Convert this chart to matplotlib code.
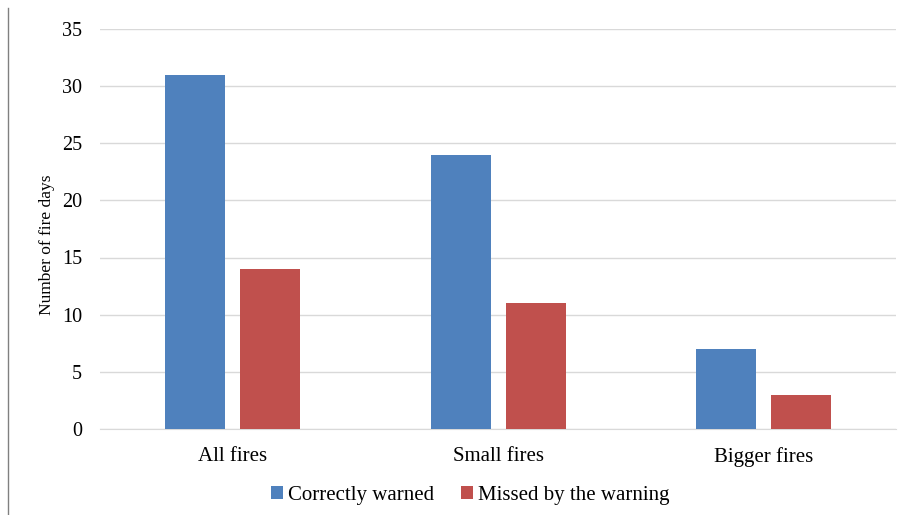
import numpy as np
import matplotlib.pyplot as plt
from matplotlib.lines import Line2D

plt.rcParams['font.family'] = ['Liberation Serif', 'DejaVu Serif']

categories = ['All fires', 'Small fires', 'Bigger fires']
correctly_warned = [31, 24, 7]
missed = [14, 11, 3]
series_names = ['Correctly warned', 'Missed by the warning']

fig = plt.figure(figsize=(9.06, 5.15), dpi=100)
ax = fig.add_axes([0.1104, 0.167, 0.879, 0.777])

x = np.arange(len(categories))
w = 0.226
ax.bar(x - 0.141, correctly_warned, w, color='#4F81BD', label=series_names[0], zorder=3)
ax.bar(x + 0.141, missed, w, color='#C0504D', label=series_names[1], zorder=3)

ax.set_xlim(-0.5, 2.5)
ax.set_ylim(0, 35)
ax.set_yticks(range(0, 36, 5))
ax.set_xticks(x)
ax.set_xticklabels(categories)
ax.yaxis.grid(True, color='#D9D9D9', linewidth=1, zorder=0)
ax.tick_params(axis='y', length=0, labelsize=14.5, pad=13)
ax.tick_params(axis='x', length=0, labelsize=15, pad=13)
for s in ['top', 'right', 'left']:
    ax.spines[s].set_visible(False)
ax.spines['bottom'].set_color('#D9D9D9')
ax.set_ylabel('Number of fire days', fontsize=12.5, labelpad=5)
ax.yaxis.label.set_y(0.46)

ax.legend(loc='upper center', bbox_to_anchor=(0.465, -0.095), ncol=2, frameon=False,
          fontsize=15, handlelength=0.55, handleheight=0.55, handletextpad=0.25,
          columnspacing=1.3)

# thin frame line down the left side
fig.add_artist(Line2D([8 / 906, 8 / 906], [0, 1 - 8 / 515], transform=fig.transFigure,
                      color='#808080', linewidth=1))

fig.savefig('out.png', dpi=100)
